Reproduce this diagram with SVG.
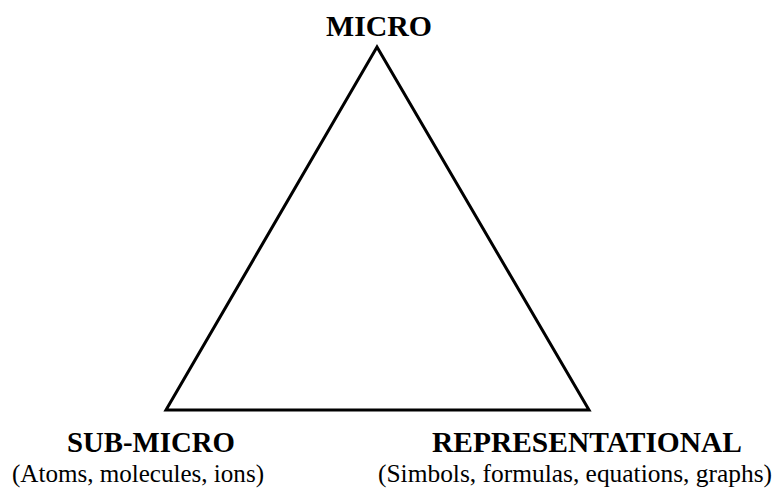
<svg xmlns="http://www.w3.org/2000/svg" width="774" height="493" viewBox="0 0 774 493">
<style>
.t{font-family:"Liberation Serif","Times New Roman",serif;fill:#000}
.b{font-weight:bold;font-size:29px}
.s{font-size:25px}
</style>
<rect width="774" height="493" fill="#fff"/>
<g id="triangle">
<polygon points="377,47 166,410 589,410" fill="none" stroke="#000" stroke-width="3" stroke-linejoin="miter"/>
</g>
<g id="micro">
<text class="t b" x="326" y="36" textLength="106" lengthAdjust="spacingAndGlyphs">MICRO</text>
</g>
<g id="submicro">
<text class="t b" x="67" y="452" textLength="168" lengthAdjust="spacingAndGlyphs">SUB-MICRO</text>
<text class="t s" x="12" y="482" textLength="252" lengthAdjust="spacingAndGlyphs">(Atoms, molecules, ions)</text>
</g>
<g id="representational">
<text class="t b" x="432" y="452" textLength="310" lengthAdjust="spacingAndGlyphs">REPRESENTATIONAL</text>
<text class="t s" x="378" y="482" textLength="394" lengthAdjust="spacingAndGlyphs">(Simbols, formulas, equations, graphs)</text>
</g>
</svg>
